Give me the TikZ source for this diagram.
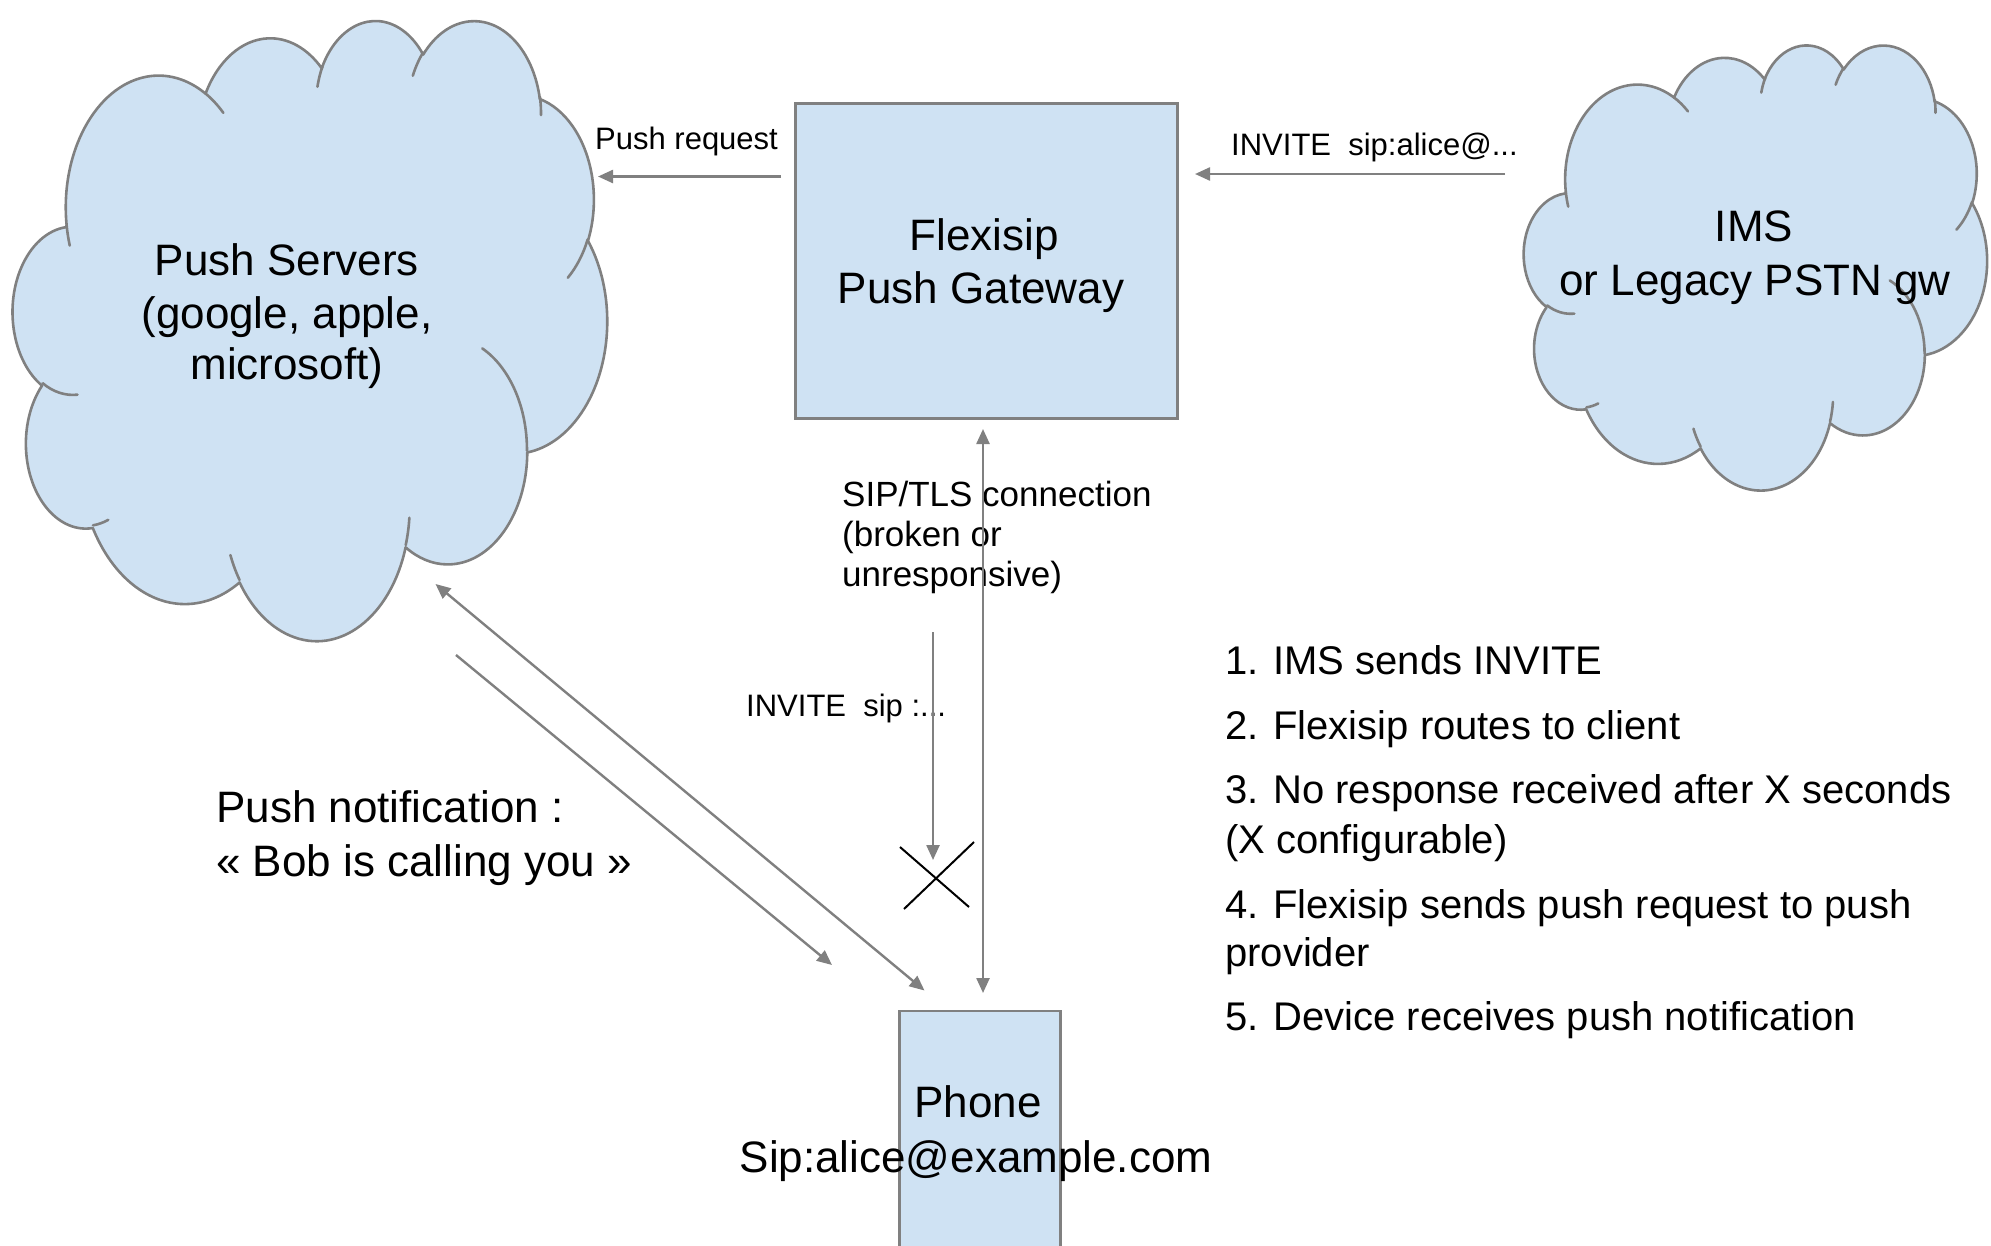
\documentclass[tikz,border=0pt]{standalone}
\usepackage{fontspec}
\setmainfont{Liberation Sans}
\usetikzlibrary{arrows.meta}
\definecolor{cloudfill}{HTML}{CFE2F3}
\definecolor{linegray}{HTML}{808080}

% one DrawingML arcTo (visual angles -> parametric angles)
\newcommand\ooarc[4]{%
  \pgfmathsetmacro\oos{atan2((#1)*sin(#3),(#2)*cos(#3))}%
  \pgfmathsetmacro\ooe{atan2((#1)*sin((#3)+(#4)),(#2)*cos((#3)+(#4)))}%
  \pgfmathsetmacro\ood{\ooe-\oos}%
  \pgfmathsetmacro\ood{\ood+360*((#4)>0)*(\ood<0)-360*((#4)<0)*(\ood>0)}%
  \pgfmathsetmacro\ooe{\oos+\ood}%
  \pgfpatharc{\oos}{\ooe}{#1pt and #2pt}%
}
\newcommand\cloudpath{%
  \pgfpathmoveto{\pgfpoint{390pt}{1437pt}}%
  \ooarc{675.3}{919.0}{-190.4875}{123.7805}%
  \ooarc{533.3}{726.7}{-144.1024}{89.9452}%
  \ooarc{436.5}{594.5}{-145.8079}{99.7230}%
  \ooarc{485.7}{659.5}{-130.9861}{117.2417}%
  \ooarc{533.3}{727.3}{-78.7089}{109.0269}%
  \ooarc{677.5}{922.0}{-46.2673}{130.2690}%
  \ooarc{578.5}{786.7}{0.6250}{114.0333}%
  \ooarc{675.2}{921.5}{22.4516}{115.1726}%
  \ooarc{772.0}{1054.3}{66.2426}{75.7110}%
  \ooarc{436.0}{591.8}{-274.9421}{146.7356}%
  \ooarc{434.5}{594.5}{-246.8285}{152.5189}%
  \pgfpathclose}
\newcommand\cloudinner{%
  \pgfpathmoveto{\pgfpoint{469.3pt}{2617.7pt}}\ooarc{434.5}{594.5}{86.7420}{26.4295}%
  \pgfpathmoveto{\pgfpoint{692.8pt}{3489.9pt}}\ooarc{436.0}{591.8}{73.6105}{11.4475}%
  \pgfpathmoveto{\pgfpoint{1647.8pt}{3909.0pt}}\ooarc{675.2}{921.5}{137.6242}{14.0811}%
  \pgfpathmoveto{\pgfpoint{2882.7pt}{3475.1pt}}\ooarc{675.2}{921.5}{6.4533}{15.9984}%
  \pgfpathmoveto{\pgfpoint{3412.9pt}{2295.4pt}}\ooarc{578.5}{786.7}{-70.2924}{70.9174}%
  \pgfpathmoveto{\pgfpoint{4179.8pt}{1535.4pt}}\ooarc{533.3}{727.3}{30.3180}{27.7515}%
  \pgfpathmoveto{\pgfpoint{3832.4pt}{542.6pt}}\ooarc{485.7}{659.5}{-13.7443}{14.8596}%
  \pgfpathmoveto{\pgfpoint{2907.8pt}{395.2pt}}\ooarc{485.7}{659.5}{-149.1815}{18.1954}%
  \pgfpathmoveto{\pgfpoint{2214.1pt}{472.0pt}}\ooarc{436.5}{594.5}{-163.4943}{17.6864}%
  \pgfpathmoveto{\pgfpoint{1400.0pt}{519.2pt}}\ooarc{675.3}{919.0}{-66.7070}{12.3194}%
  \pgfpathmoveto{\pgfpoint{412.7pt}{1578.9pt}}\ooarc{675.3}{919.0}{157.6544}{11.8582}%
}
% cloud filling the box with top-left (#1,#2), width #3, height #4
\newcommand\drawcloud[4]{%
  \begin{scope}[shift={(#1,#2)}, xscale=#3/4320, yscale=-#4/4320]
    \cloudpath
    \pgfsetfillcolor{cloudfill}\pgfsetstrokecolor{linegray}%
    \pgfsetlinewidth{2.6pt}\pgfsetroundjoin\pgfsetroundcap
    \pgfusepath{fill,stroke}
    \cloudinner
    \pgfusepath{stroke}
  \end{scope}}

\tikzset{
  boxnode/.style={draw=linegray, fill=cloudfill, line width=2.6pt, inner sep=0pt, anchor=north west},
  conn/.style={draw=linegray, line width=2.4pt},
  onetip/.style={-{Triangle[length=15pt,width=13pt]}},
  twotips/.style={{Triangle[length=15pt,width=13pt]}-{Triangle[length=15pt,width=13pt]}},
  bigtxt/.style={font=\fontsize{44}{53}\selectfont, inner sep=0pt},
  listtxt/.style={font=\fontsize{40}{50}\selectfont, inner sep=0pt, anchor=base west},
  midtxt/.style={font=\fontsize{35}{40}\selectfont, inner sep=0pt, anchor=base west},
  smalltxt/.style={font=\fontsize{31}{36}\selectfont, inner sep=0pt, anchor=base west},
}

\begin{document}
\begin{tikzpicture}[x=1pt,y=-1pt]
\fill[white] (0,0) rectangle (1991,1245);
\useasboundingbox (0,0) rectangle (1991,1245);
\clip (0,0) rectangle (1991,1245);

% clouds
\drawcloud{13}{19}{594}{620}
\drawcloud{1524}{44}{463}{445}

% boxes
\node[boxnode, minimum width=382pt, minimum height=315pt] (fx) at (794,102) {};
\node[boxnode, minimum width=161pt, minimum height=280pt] (ph) at (898,1009.5) {};

% cloud / box texts
\node[bigtxt, anchor=base] (ps1) at (287,275) {Push Servers};
\node[bigtxt, anchor=base] (ps2) at (287,328) {(google, apple,};
\node[bigtxt, anchor=base] (ps3) at (287,379) {microsoft)};
\node[bigtxt, anchor=base] (fx1) at (984,250) {Flexisip};
\node[bigtxt, anchor=base] (fx2) at (981,303) {Push Gateway};
\node[bigtxt, anchor=base] (ims1) at (1754,241) {IMS};
\node[bigtxt, anchor=base] (ims2) at (1755,295) {or Legacy PSTN gw};
\node[bigtxt, anchor=base] (ph1) at (978,1117) {Phone};
\node[bigtxt, anchor=base] (ph2) at (976,1172) {Sip:alice@example.com};

% push notification text
\node[bigtxt, anchor=base west] (pn1) at (216,822) {Push notification :};
\node[bigtxt, anchor=base west] (pn2) at (216,876) {« Bob is calling you »};

% connector labels
\node[smalltxt] (lpr) at (595,149) {Push request};
\node[smalltxt] (linv) at (1231,155) {INVITE\ \ sip:alice@...};
\node[smalltxt] (linv2) at (746,716) {INVITE\ \ sip :...};
\node[midtxt] (tls1) at (842,506) {SIP/TLS connection};
\node[midtxt] (tls2) at (842,546) {(broken or};
\node[midtxt] (tls3) at (842,586) {unresponsive)};

% steps
\node[listtxt] (s1) at (1225,674) {1. IMS sends INVITE};
\node[listtxt] (s2) at (1225,739) {2. Flexisip routes to client};
\node[listtxt] (s3) at (1225,803) {3. No response received after X seconds};
\node[listtxt] (s3b) at (1225,853) {(X configurable)};
\node[listtxt] (s4) at (1225,918) {4. Flexisip sends push request to push};
\node[listtxt] (s4b) at (1225,966) {provider};
\node[listtxt] (s5) at (1225,1030) {5. Device receives push notification};

% connector end points
\coordinate (prA) at (781,176.5);
\coordinate (prB) at (598,176.5);
\coordinate (inA) at (1505,174);
\coordinate (inB) at (1195,174);
\coordinate (vtA) at (983,429);
\coordinate (vtB) at (983,993);
\coordinate (svA) at (933,632);
\coordinate (svB) at (933,860);
\coordinate (dgA) at (435.5,584);
\coordinate (dgB) at (924.5,990.5);
\coordinate (dnA) at (456,655);
\coordinate (dnB) at (832,965);
\coordinate (xa) at (900,847);
\coordinate (xb) at (969,907);
\coordinate (xc) at (904,909);
\coordinate (xd) at (974,842);

% connectors
\draw[conn, onetip] (prA) -- (prB);
\draw[conn, onetip] (inA) -- (inB);
\draw[conn, twotips] (vtA) -- (vtB);
\draw[conn, onetip] (svA) -- (svB);
\draw[conn, twotips] (dgA) -- (dgB);
\draw[conn, onetip] (dnA) -- (dnB);

% cross
\draw[black, line width=2pt] (xa) -- (xb);
\draw[black, line width=2pt] (xc) -- (xd);
\end{tikzpicture}
\end{document}
